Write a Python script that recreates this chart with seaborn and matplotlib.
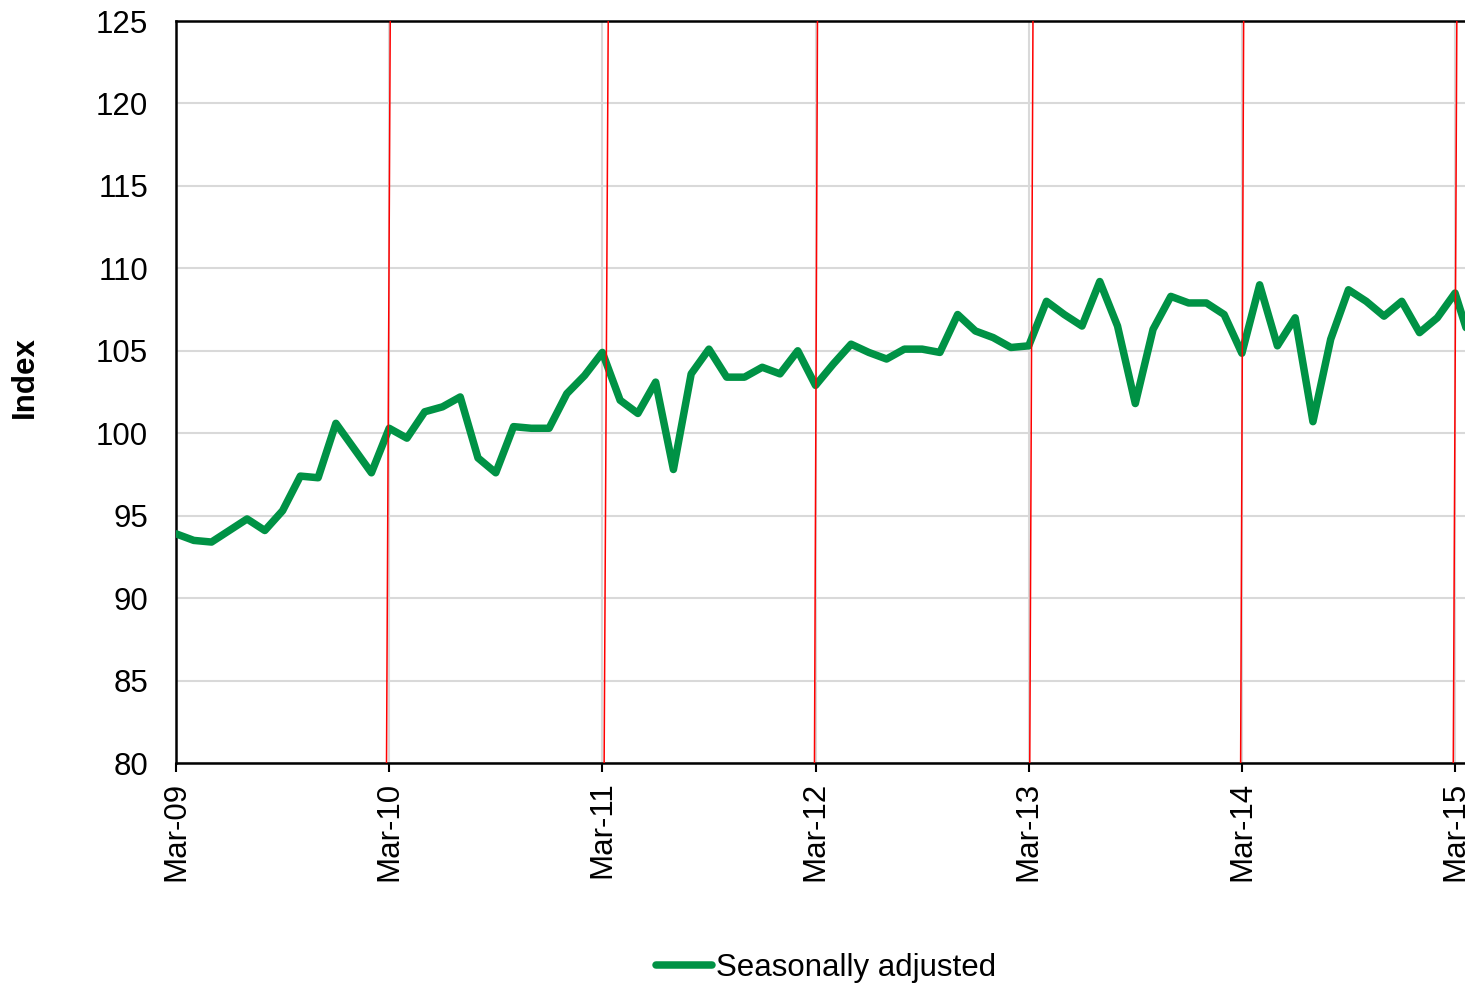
import numpy as np
import pandas as pd
import matplotlib
matplotlib.use("Agg")
import matplotlib.pyplot as plt
import seaborn as sns
from matplotlib.lines import Line2D

# ---- data ----
month_labels = ["Mar-09", "Mar-10", "Mar-11", "Mar-12", "Mar-13", "Mar-14", "Mar-15"]
values = [
    93.9, 93.5, 93.4, 94.1, 94.8, 94.1, 95.3, 97.4, 97.3, 100.6,          # Mar-09..Dec-09
    99.1, 97.6, 100.3, 99.7, 101.3, 101.6, 102.2, 98.5, 97.6, 100.4, 100.3, 100.3,  # 2010
    102.4, 103.5, 104.9, 102.0, 101.2, 103.1, 97.8, 103.6, 105.1, 103.4, 103.4, 104.0,  # 2011
    103.6, 105.0, 102.9, 104.2, 105.4, 104.9, 104.5, 105.1, 105.1, 104.9, 107.2, 106.2,  # 2012
    105.8, 105.2, 105.3, 108.0, 107.2, 106.5, 109.2, 106.5, 101.8, 106.3, 108.3, 107.9,  # 2013
    107.9, 107.2, 104.85, 109.0, 105.3, 107.0, 100.7, 105.7, 108.7, 108.0, 107.1, 108.0,  # 2014
    106.1, 107.0, 108.5, 105.1,                                              # 2015
]
series_name = "Seasonally adjusted"
# red marker lines (months since Mar-09) at bottom and top of plot
red_bottom = [11.85, 24.10, 35.94, 48.06, 59.93, 71.90]
red_top = [12.06, 24.33, 36.11, 48.24, 60.10, 72.10]

months = np.arange(len(values))
df = pd.DataFrame({"month": months, "value": values, "series": series_name})

sns.set_theme(style="white")
plt.rcParams["font.family"] = ["Liberation Sans", "DejaVu Sans"]
plt.rcParams["text.color"] = "black"
plt.rcParams["axes.labelcolor"] = "black"

W, H = 1465, 986
fig = plt.figure(figsize=(W / 100, H / 100), dpi=100)
ax = fig.add_axes([176 / W, 1 - 763 / H, (W - 176) / W, (763 - 21) / H])

green = "#009245"
lw = 5.4
sns.lineplot(data=df, x="month", y="value", hue="series", palette=[green],
             linewidth=lw, ax=ax, legend=False, zorder=3,
             solid_joinstyle="round", solid_capstyle="round")

for b, t in zip(red_bottom, red_top):
    ax.plot([b, t], [80, 125], color="#FF0000", linewidth=1.1, zorder=4)

ax.set_xlim(0, 72.56)
ax.set_ylim(80, 125)
ax.set_yticks(np.arange(80, 126, 5))
ax.set_xticks(np.arange(0, 73, 12))
ax.set_xticklabels(month_labels, rotation=90)

ax.grid(True, axis="both", color="#D9D9D9", linewidth=1.5, zorder=0)
ax.set_axisbelow(True)

for side in ["left", "top", "bottom"]:
    ax.spines[side].set_visible(True)
    ax.spines[side].set_color("black")
    ax.spines[side].set_linewidth(1.8)
ax.spines["right"].set_visible(False)

ax.tick_params(axis="x", direction="out", length=6.5, width=1.5, color="black",
               pad=7, labelsize=22.5, labelcolor="black", bottom=True)
ax.tick_params(axis="y", length=0, pad=20, labelsize=22.5, labelcolor="black")
ax.set_xlabel("")
ax.set_ylabel("")

fig.text(25 / W, 1 - 377 / H, "Index", rotation=90, ha="center", va="center",
         fontsize=22.5, fontweight="bold", color="black")

handle = Line2D([0], [0], color=green, linewidth=lw, solid_capstyle="round")
leg = fig.legend([handle], [series_name], loc="center", bbox_to_anchor=(826 / W, 1 - 968 / H),
                 frameon=False, fontsize=22.5, handlelength=1.8, handletextpad=0.12,
                 borderpad=0.1)
for t in leg.get_texts():
    t.set_color("black")

fig.savefig("out.png", dpi=100)
